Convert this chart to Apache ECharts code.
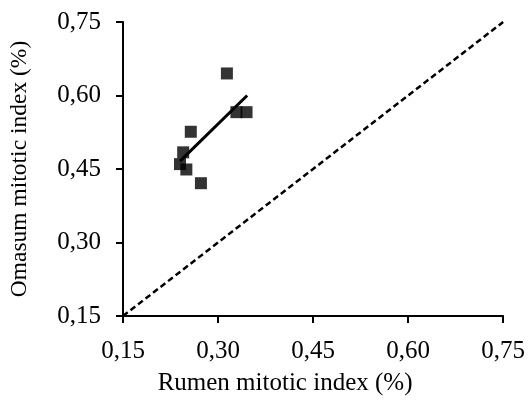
<!DOCTYPE html>
<html><head><meta charset="utf-8">
<script src="https://cdn.jsdelivr.net/npm/echarts@6/dist/echarts.min.js"></script>
<style>html,body{margin:0;padding:0;background:#fff}#c{width:528px;height:403px}</style>
</head><body><div id="c"></div>
<script>
var rumen = [0.314, 0.329, 0.345, 0.257, 0.245, 0.240, 0.250, 0.273];
var omasum = [0.645, 0.566, 0.566, 0.526, 0.484, 0.460, 0.449, 0.421];
var trendX = [0.240, 0.346];
var trendY = [0.466, 0.600];
var identity = [0.15, 0.75];
var ticks = [0.15, 0.30, 0.45, 0.60, 0.75];

var pts = rumen.map(function(x, i){ return [x, omasum[i]]; });
var trend = trendX.map(function(x, i){ return [x, trendY[i]]; });
var diag = identity.map(function(v){ return [v, v]; });
var font = 'Liberation Serif';
function fmt(v){ return v.toFixed(2).replace('.', ','); }

var chart = echarts.init(document.getElementById('c'));
chart.setOption({
  animation: false,
  grid: {left: 123, right: 24, top: 22, bottom: 87},
  xAxis: {
    type: 'value', min: 0.15, max: 0.75, interval: 0.15,
    name: 'Rumen mitotic index (%)', nameLocation: 'middle', nameGap: 55,
    nameTextStyle: {fontFamily: font, fontSize: 25, color: '#000', padding: [0, 56, 0, 0]},
    axisLine: {lineStyle: {color: '#000', width: 2}},
    axisTick: {show: true, length: 7, lineStyle: {color: '#000', width: 2}},
    axisLabel: {fontFamily: font, fontSize: 25, color: '#000', margin: 23, formatter: fmt},
    splitLine: {show: false}
  },
  yAxis: {
    type: 'value', min: 0.15, max: 0.75, interval: 0.15,
    name: 'Omasum mitotic index (%)', nameLocation: 'middle', nameGap: 91,
    nameTextStyle: {fontFamily: font, fontSize: 23.5, color: '#000'},
    axisLine: {show: true, lineStyle: {color: '#000', width: 2}},
    axisTick: {show: true, length: 7, lineStyle: {color: '#000', width: 2}},
    axisLabel: {fontFamily: font, fontSize: 25, color: '#000', margin: 22, formatter: fmt},
    splitLine: {show: false}
  },
  series: [
    {type: 'line', data: diag, symbol: 'none', lineStyle: {color: '#000', width: 2.5, type: [6, 3.5]}, z: 1},
    {type: 'line', data: trend, symbol: 'none', lineStyle: {color: '#000', width: 3}, z: 2},
    {type: 'scatter', data: pts, symbol: 'rect', symbolSize: 12, itemStyle: {color: '#000'}, z: 3}
  ]
});
</script></body></html>
